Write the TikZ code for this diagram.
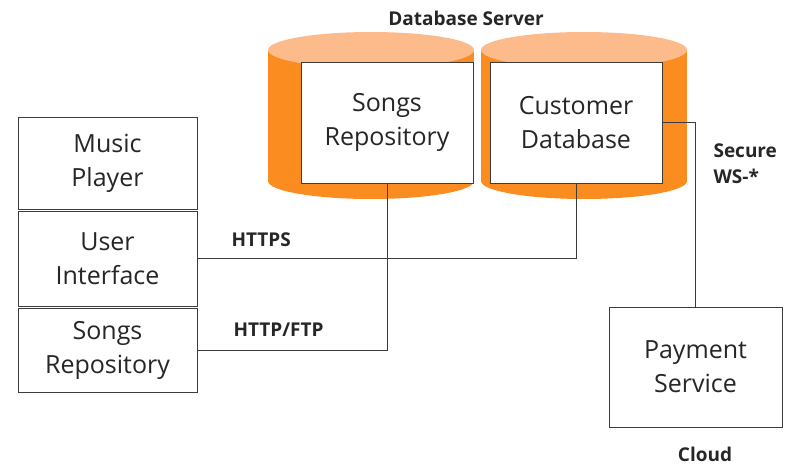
\documentclass[tikz,border=0pt]{standalone}
\usepackage{fontspec}
\setmainfont{Open Sans}
\usetikzlibrary{positioning}

\definecolor{dbbody}{RGB}{250,140,32}
\definecolor{dbtop}{RGB}{253,186,138}
\definecolor{linegray}{RGB}{60,60,60}

\tikzset{
  comp/.style={draw=linegray, line width=0.9pt, fill=white, align=center,
    font=\fontsize{25}{34}\selectfont, text=black!85},
  proto/.style={font=\fontsize{19}{26}\selectfont\bfseries, text=black!85, align=left},
  link/.style={draw=linegray, line width=0.7pt}
}

\begin{document}
\begin{tikzpicture}[x=1pt, y=1pt]

  \useasboundingbox (0,0) rectangle (792,466);

  % cylinder size
  \def\rx{103}
  \def\ry{18}

  % the two database cylinders
  \foreach \cx in {371,584} {
    \fill[dbbody] (\cx,285) ellipse [x radius=\rx, y radius=\ry];
    \fill[dbbody] (\cx-\rx,285) rectangle (\cx+\rx,416);
    \fill[dbtop] (\cx,416) ellipse [x radius=\rx, y radius=\ry];
  }

  % database server
  \node[comp, minimum width=172, minimum height=121] (sr) at (387,343.5) {Songs\\Repository};
  \node[comp, minimum width=172, minimum height=121] (cd) at (576,343.5) {Customer\\Database};
  \node[proto] (dbs) at (466,448) {Database Server};

  % client side
  \node[comp, minimum width=179, minimum height=92] (mp) at (107.5,303) {Music\\Player};
  \node[comp, minimum width=179, minimum height=95] (ui) at (107.5,207.5) {User\\Interface};
  \node[comp, minimum width=179, minimum height=84] (srl) at (107.5,116) {Songs\\Repository};

  % cloud
  \node[comp, minimum width=173, minimum height=120] (pay) at (695.5,99) {Payment\\Service};
  \node[proto, inner sep=0pt] (cloud) at (705,12) {Cloud};

  % connections
  \draw[link] (ui.east) -| (cd.south);
  \draw[link] (srl.east) -| (sr.south);
  \draw[link] (cd.east) -| (pay.north);

  \node[proto, anchor=west] (https) at (228,226) {HTTPS};
  \node[proto, anchor=west] (ftp) at (230,136) {HTTP/FTP};
  \node[proto, anchor=west] (ws) at (710,302) {Secure\\WS-*};

\end{tikzpicture}
\end{document}
